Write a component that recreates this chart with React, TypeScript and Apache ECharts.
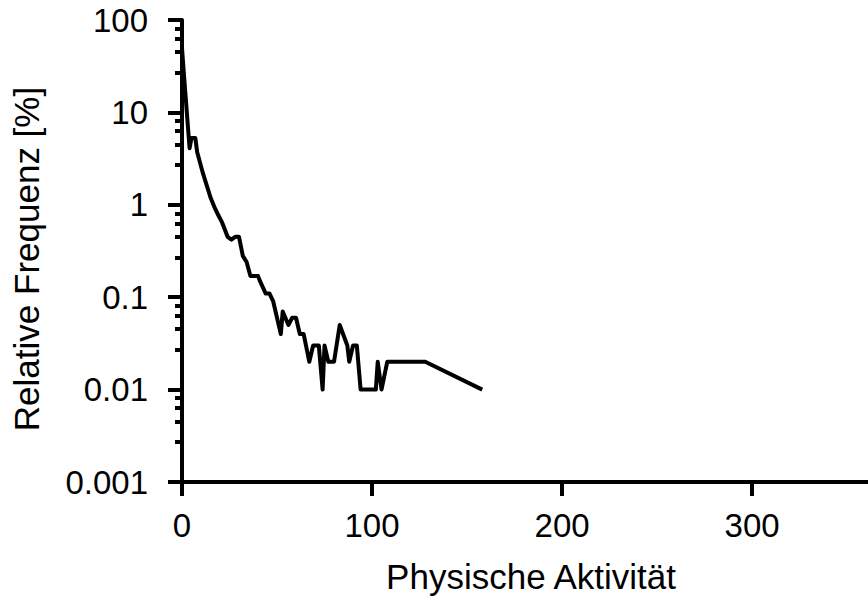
import React, { useEffect, useRef } from 'react';
import * as echarts from 'echarts';

// Physische Aktivität (x) vs. relative Frequenz in % (y, log)
const activity = [0, 1, 2, 3, 4, 5, 7, 8, 11, 14, 15, 17, 19, 21, 24, 26, 28, 30, 32, 34, 36, 40, 41, 44, 46, 48, 52, 53, 56, 58, 60, 62, 64, 67, 69, 72, 74, 75, 77, 80, 83, 87, 88, 90, 92, 94, 102, 103, 105, 108, 128, 158];
const frequency = [50, 26, 14, 7.5, 4.1, 5.3, 5.3, 3.7, 2.2, 1.4, 1.2, 0.95, 0.78, 0.65, 0.45, 0.42, 0.45, 0.45, 0.28, 0.24, 0.17, 0.17, 0.15, 0.11, 0.11, 0.09, 0.04, 0.07, 0.05, 0.06, 0.06, 0.04, 0.04, 0.02, 0.03, 0.03, 0.01, 0.03, 0.02, 0.02, 0.05, 0.03, 0.02, 0.03, 0.03, 0.01, 0.01, 0.02, 0.01, 0.02, 0.02, 0.01];

const yTickValues = [0.001, 0.01, 0.1, 1, 10, 100];
const yTickLabels = ['0.001', '0.01', '0.1', '1', '10', '100'];
const yMinorFactors = [2.7, 4.5, 6.3, 8.1];
const xTickValues = [0, 100, 200, 300];
const xTickLabels = ['0', '100', '200', '300'];

const xAxisName = 'Physische Aktivität';
const yAxisName = 'Relative Frequenz [%]';

const minorTickValues: number[] = [];
yTickValues.slice(0, -1).forEach((d) => yMinorFactors.forEach((f) => minorTickValues.push(+(d * f).toPrecision(3))));

const FONT = '"Liberation Sans", Arial, sans-serif';

export default function App() {
  const ref = useRef<HTMLDivElement>(null);
  useEffect(() => {
    document.body.style.margin = '0';
    if (!ref.current) return;
    const chart = echarts.init(ref.current, undefined, { renderer: 'svg' });
    const labelFor = (v: number) => {
      const i = yTickValues.findIndex((t) => Math.abs(Math.log10(t) - Math.log10(v)) < 1e-6);
      return i >= 0 ? yTickLabels[i] : '';
    };
    chart.setOption({
      animation: false,
      backgroundColor: '#ffffff',
      grid: { left: 182, right: 0, top: 20, bottom: 117, containLabel: false },
      xAxis: {
        type: 'value',
        min: 0,
        max: 361,
        interval: 100,
        name: xAxisName,
        nameLocation: 'middle',
        nameGap: 77,
        nameTextStyle: { fontFamily: FONT, fontSize: 35, color: '#000', padding: [0, 0, 0, 12] },
        axisLine: { show: true, onZero: false, lineStyle: { color: '#000', width: 4 } },
        axisTick: { show: true, length: 14, inside: false, customValues: xTickValues, lineStyle: { color: '#000', width: 4 } },
        axisLabel: {
          margin: 27,
          fontFamily: FONT,
          fontSize: 33,
          color: '#000',
          customValues: xTickValues,
          formatter: (v: number) => xTickLabels[xTickValues.indexOf(v)] ?? '',
        },
        splitLine: { show: false },
      },
      yAxis: [
        {
          type: 'log',
          logBase: 10,
          min: 0.001,
          max: 100,
          name: yAxisName,
          nameLocation: 'middle',
          nameGap: 138,
          nameRotate: 90,
          nameTextStyle: { fontFamily: FONT, fontSize: 35, color: '#000', padding: [0, 16, 0, 0] },
          axisLine: { show: true, onZero: false, lineStyle: { color: '#000', width: 4 } },
          axisTick: { show: true, length: 14, inside: false, customValues: yTickValues, lineStyle: { color: '#000', width: 4 } },
          axisLabel: {
            margin: 34,
            fontFamily: FONT,
            fontSize: 33,
            color: '#000',
            customValues: yTickValues,
            formatter: (v: number) => labelFor(v),
          },
          splitLine: { show: false },
          minorTick: { show: false },
        },
        {
          type: 'log',
          logBase: 10,
          min: 0.001,
          max: 100,
          position: 'left',
          offset: 0,
          axisLine: { show: false },
          axisTick: { show: true, length: 7, inside: false, customValues: minorTickValues, lineStyle: { color: '#000', width: 4 } },
          axisLabel: { show: false },
          splitLine: { show: false },
        },
      ],
      series: [
        {
          type: 'line',
          yAxisIndex: 0,
          data: activity.map((x, i) => [x, frequency[i]]),
          symbol: 'none',
          showSymbol: false,
          lineStyle: { color: '#000', width: 4, join: 'round' },
          z: 3,
        },
      ],
    });
    return () => chart.dispose();
  }, []);
  return <div ref={ref} style={{ width: 868, height: 599 }} />;
}
